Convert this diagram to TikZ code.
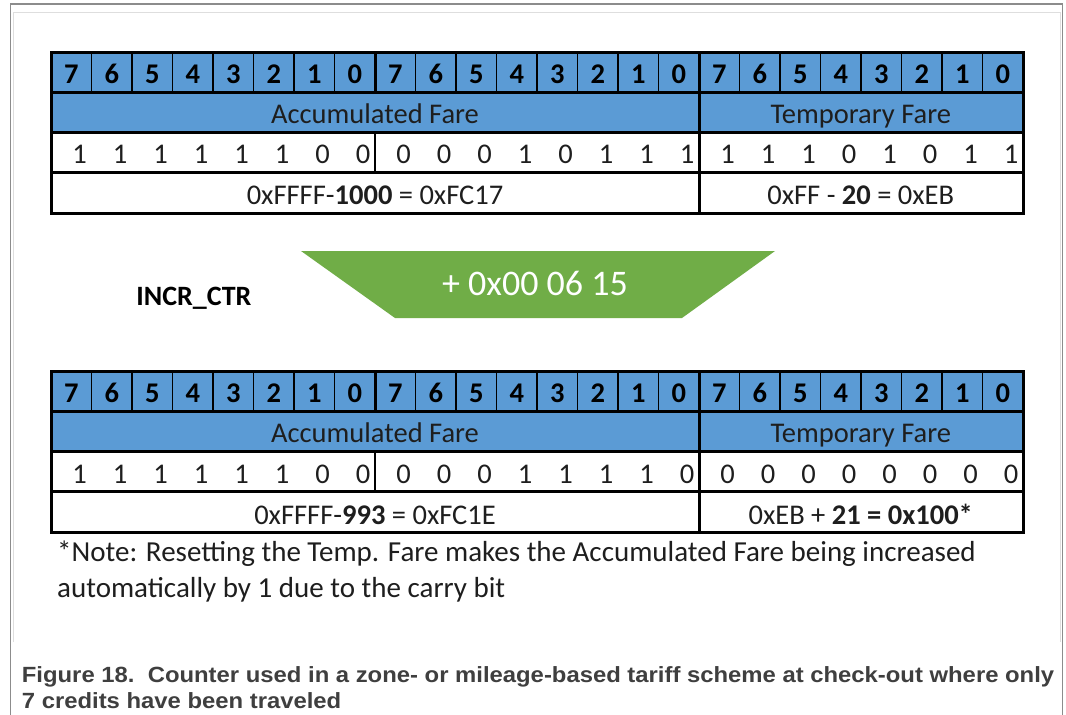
\documentclass[tikz,border=0pt]{standalone}
\usepackage{fontspec}
\setmainfont{Carlito}
\newfontfamily\captionfont[FakeStretch=1.084]{Liberation Sans}

\definecolor{fieldblue}{HTML}{5B9BD5}
\definecolor{incgreen}{HTML}{70AD47}
\definecolor{framegray}{HTML}{8C8C8C}
\definecolor{innergray}{HTML}{DEDEDE}
\definecolor{captiongray}{HTML}{3F3F3F}
\definecolor{textdark}{HTML}{1E1E1E}

\newcommand\tablefont{\fontsize{28.5}{32}\selectfont}

\tikzset{
  bitnum/.style={anchor=base, inner sep=0pt, font=\tablefont\bfseries, text=black},
  fieldname/.style={anchor=base, inner sep=0pt, font=\tablefont, text=textdark},
  bitval/.style={anchor=base, inner sep=0pt, font=\tablefont, text=textdark},
  calctext/.style={anchor=base, inner sep=0pt, font=\tablefont, text=textdark},
  thinrule/.style={draw=black, line width=1.2pt},
  thickrule/.style={draw=black, line width=3pt},
  notetext/.style={anchor=base west, inner sep=0pt, font=\fontsize{29}{32}\selectfont, text=textdark},
  captext/.style={anchor=base west, inner sep=0pt, font=\captionfont\bfseries\fontsize{22}{26}\selectfont, text=captiongray},
}

% One 24-bit register: #1 name prefix, #2 top edge, #3 the 24 bit values,
% #4 accumulated-fare calculation, #5 temporary-fare calculation
\newcommand\fareregister[5]{%
  \begin{scope}[shift={(0,#2)}]
    \fill[fieldblue] (51,0) rectangle (1023,80);
    \foreach \i in {0,...,23}{%
      \pgfmathtruncatemacro\bitpos{7-mod(\i,8)}%
      \node[bitnum] (#1-bit-\i) at ({71.25+40.5*\i},31) {\bitpos};
    }
    \node[fieldname] (#1-acc) at (375,71) {Accumulated Fare};
    \node[fieldname] (#1-tmp) at (860.75,71) {Temporary Fare};
    \foreach \v [count=\i from 0] in {#3}{%
      \node[bitval] (#1-val-\i) at ({79.5+40.5*\i},111.5) {\v};
    }
    \node[calctext] (#1-acc-calc) at (375,152.5) {#4};
    \node[calctext] (#1-tmp-calc) at (860.75,152.5) {#5};
    % cell rules
    \foreach \i in {1,...,23}{\draw[thinrule] ({51+40.5*\i},0) -- ({51+40.5*\i},40);}
    \draw[thinrule] (375,80) -- (375,120);
    \draw[thickrule] (375,0) -- (375,40);
    \draw[thickrule] (699,0) -- (699,161);
    \draw[thickrule] (51,40) -- (1023,40);
    \draw[thickrule] (51,80) -- (1023,80);
    \draw[thickrule] (51,120) -- (1023,120);
    \draw[thickrule] (51,0) rectangle (1023,161);
  \end{scope}}

\begin{document}
\begin{tikzpicture}[x=1pt, y=-1pt]
  \useasboundingbox (0,0) rectangle (1066,715);
  \fill[white] (0,0) rectangle (1066,715);

  % page frame and figure border
  \draw[framegray, line width=1.2pt] (10.5,715) -- (10.5,4) -- (1062.5,4) -- (1062.5,715);
  \draw[innergray, line width=1.5pt] (13.5,642) -- (13.5,12.7) -- (1060.5,12.7) -- (1060.5,642);

  % register before the increment
  \fareregister{before}{52}
    {1,1,1,1,1,1,0,0,0,0,0,1,0,1,1,1,1,1,1,0,1,0,1,1}
    {0xFFFF-\textbf{1000} = 0xFC17}
    {0xFF - \textbf{20} = 0xEB}

  % increment command
  \node[anchor=base, inner sep=0pt, font=\fontsize{28}{32}\selectfont\bfseries, text=black]
    (incrlabel) at (194,305) {INCR\_CTR};
  \fill[incgreen] (301,251) -- (775,251) -- (682,318) -- (395,318) -- cycle;
  \node[anchor=base, inner sep=0pt, font=\fontsize{36}{40}\selectfont, text=white]
    (incrvalue) at (535,295) {+ 0x00 06 15};

  % register after the increment
  \fareregister{after}{371.5}
    {1,1,1,1,1,1,0,0,0,0,0,1,1,1,1,0,0,0,0,0,0,0,0,0}
    {0xFFFF-\textbf{993} = 0xFC1E}
    {0xEB + \textbf{21 = 0x100*}}

  % footnote
  \node[notetext] (note1) at (57,561)
    {*Note: Resetting the Temp. Fare makes the Accumulated Fare being increased};
  \node[notetext] (note2) at (57,597)
    {automatically by 1 due to the carry bit};

  % caption
  \node[captext] (cap1) at (21.7,682)
    {Figure 18.\ \ Counter used in a zone- or mileage-based tariff scheme at check-out where only};
  \node[captext] (cap2) at (21.7,708) {7 credits have been traveled};
\end{tikzpicture}
\end{document}
